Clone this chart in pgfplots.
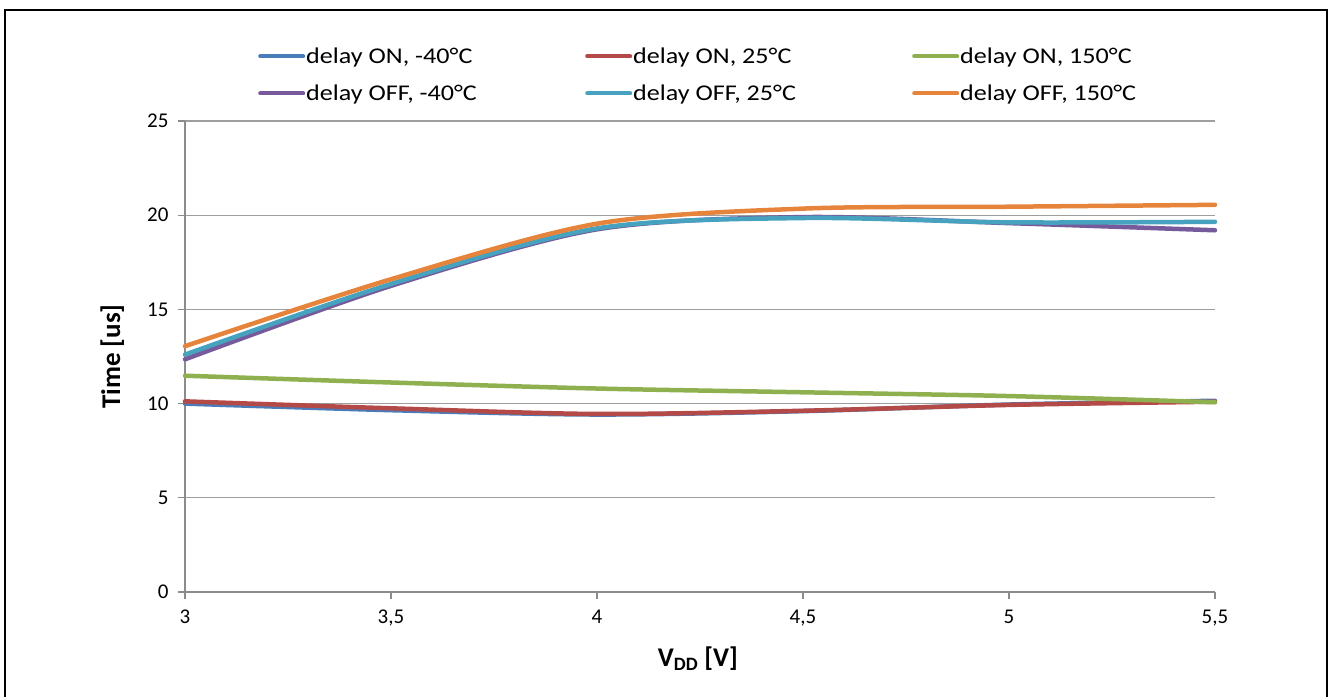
\documentclass[border=0pt]{standalone}
\usepackage{pgfplots}
\pgfplotsset{compat=1.18}
\usepackage{fontspec}
\setmainfont{Carlito}
\usepackage{graphicx}
\definecolor{cBlue}{HTML}{4A7CBA}
\definecolor{cRed}{HTML}{B44A47}
\definecolor{cGreen}{HTML}{8EB04F}
\definecolor{cPurple}{HTML}{765A9C}
\definecolor{cCyan}{HTML}{46A2BE}
\definecolor{cOrange}{HTML}{E6843C}
\definecolor{gridgray}{HTML}{9E9E9E}
\definecolor{axisgray}{HTML}{8C8C8C}
\newcommand\legtxt[1]{\makebox[278pt][l]{\scalebox{1.16}[1]{#1}}}
\begin{document}
\begin{tikzpicture}[x=1pt,y=1pt]
\path[use as bounding box] (0,0) rectangle (1332,697);
\draw[black, line width=2pt] (5,0) -- (5,687) -- (1327,687) -- (1327,0);
\begin{axis}[
  at={(185pt,105pt)}, anchor=south west,
  scale only axis, width=1030pt, height=471pt,
  xmin=3, xmax=5.5, ymin=0, ymax=25,
  xtick={3,3.5,4,4.5,5,5.5},
  xticklabels={3,{3,5},4,{4,5},5,{5,5}},
  ytick={0,5,10,15,20,25},
  axis lines*=left,
  axis line style={draw=axisgray, line width=1.3pt},
  ymajorgrids, major grid style={draw=gridgray, line width=1.3pt},
  tick style={draw=axisgray, line width=1.3pt},
  tick align=outside, major tick length=7pt,
  /pgf/number format/assume math mode=true,
  ticklabel style={font=\fontsize{21}{25}\selectfont, text=black},
  xticklabel style={yshift=-7pt},
  yticklabel style={xshift=-6pt},
  xlabel={V\textsubscript{DD} [V]},
  ylabel={Time [us]},
  xlabel style={font=\bfseries\fontsize{27}{32}\selectfont, at={(axis description cs:0.498,-0.1592)}, anchor=base},
  ylabel style={font=\bfseries\fontsize{27}{32}\selectfont, at={(axis description cs:-0.0631,0.5)}, anchor=base},
  clip=false,
  every axis plot/.append style={line width=4.5pt, smooth, line cap=round, line join=round},
  legend columns=3,
  legend style={at={(axis description cs:0.0709,1.158)}, anchor=north west, draw=none, fill=none, inner sep=0pt,
    font=\fontsize{22.5}{26}\selectfont, row sep=18pt, nodes={inner sep=1pt}},
  legend cell align=left,
  legend image code/.code={\draw[#1, line width=4pt] (0pt,0pt) -- (43pt,0pt);},
]
\addplot[cBlue] coordinates {(3,10.0) (3.5,9.65) (4,9.42) (4.5,9.6) (5,9.95) (5.5,10.15)};
\addlegendentry{\legtxt{delay ON, -40°C}}
\addplot[cRed] coordinates {(3,10.12) (3.5,9.75) (4,9.45) (4.5,9.62) (5,9.93) (5.5,10.1)};
\addlegendentry{\legtxt{delay ON, 25°C}}
\addplot[cGreen] coordinates {(3,11.48) (3.5,11.12) (4,10.8) (4.5,10.6) (5,10.4) (5.5,10.07)};
\addlegendentry{\legtxt{delay ON, 150°C}}
\addplot[cPurple] coordinates {(3,12.35) (3.5,16.25) (4,19.25) (4.5,19.9) (5,19.58) (5.5,19.2)};
\addlegendentry{\legtxt{delay OFF, -40°C}}
\addplot[cCyan] coordinates {(3,12.6) (3.5,16.35) (4,19.3) (4.5,19.85) (5,19.62) (5.5,19.65)};
\addlegendentry{\legtxt{delay OFF, 25°C}}
\addplot[cOrange] coordinates {(3,13.05) (3.5,16.6) (4,19.55) (4.5,20.35) (5,20.45) (5.5,20.55)};
\addlegendentry{\legtxt{delay OFF, 150°C}}
\end{axis}
\end{tikzpicture}
\end{document}
